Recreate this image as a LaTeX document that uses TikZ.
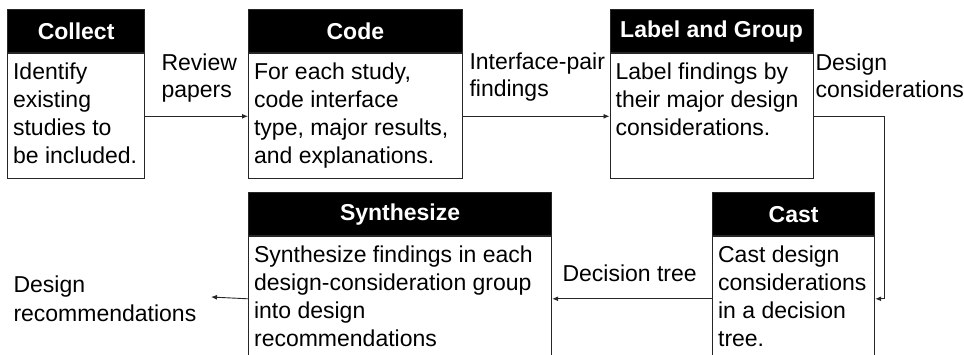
\documentclass[tikz,border=0pt]{standalone}
\usepackage{fontspec}
\setmainfont{Liberation Sans}
\usetikzlibrary{arrows.meta}
\newcommand\boxbody[3]{\parbox[t][#2][t]{#1}{\raggedright#3}}

\begin{document}
\begin{tikzpicture}[x=1pt,y=-1pt,line width=1pt,
  head/.style={draw=black!85,line width=1.2pt,fill=black,text=white,font=\fontsize{23}{27}\selectfont\bfseries,minimum height=43pt,inner sep=0pt,anchor=north west},
  body/.style={draw=black!85,line width=1.2pt,anchor=north west,inner xsep=5.5pt,inner ysep=9.5pt,font=\fontsize{23}{28}\selectfont},
  lbl/.style={anchor=north west,align=left,inner sep=0pt,font=\fontsize{23}{27}\selectfont},
  flow/.style={-{Latex[length=6pt,width=5pt]},line width=.9pt,draw=black!85}]
\useasboundingbox (0,0) rectangle (964,354);\clip (0,0) rectangle (964,354);
% top row
\node[head,minimum width=137pt] (collect) at (7,9) {Collect};
\node[body] (collectB) at (collect.south west) {\boxbody{126pt}{106pt}{Identify\\existing\\studies to\\be included.}};
\node[head,minimum width=213.5pt] (code) at (248,9) {Code};
\node[body] (codeB) at (code.south west) {\boxbody{202.5pt}{106pt}{For each study,\\code interface\\type, major results,\\and explanations.}};
\node[head,minimum width=203pt] (lg) at (609.5,9) {Label and Group};
\node[body] (lgB) at (lg.south west) {\boxbody{192pt}{106pt}{Label findings by\\their major design\\considerations.}};
% bottom row
\node[head,minimum width=162pt] (cast) at (712,192) {Cast};
\node[body] (castB) at (cast.south west) {\boxbody{151pt}{105pt}{Cast design\\considerations\\in a decision\\tree.}};
\node[head,minimum width=303pt] (syn) at (248,192) {Synthesize};
\node[body] (synB) at (syn.south west) {\boxbody{292pt}{105pt}{Synthesize findings in each\\design-consideration group\\into design\\recommendations}};
% labels
\node[lbl] (review) at (161,53.5) {Review\\papers};
\node[lbl] (pairs) at (469,52.5) {Interface-pair\\findings};
\node[lbl] (considerations) at (815,53.5) {Design\\considerations};
\node[lbl] (tree) at (562,264.5) {Decision tree};
\node[lbl] (recs) at (13,275.5) {Design\\[2pt]recommendations};
\coordinate (out) at (211,297);
% connectors
\draw[flow] (collectB) -- (codeB);\draw[flow] (codeB) -- (lgB);
\draw[flow] (lgB.east) -- ++(71,0) |- (castB.east);
\draw[flow] (castB) -- (synB);\draw[flow] (synB.west) -- (out);
\end{tikzpicture}
\end{document}
